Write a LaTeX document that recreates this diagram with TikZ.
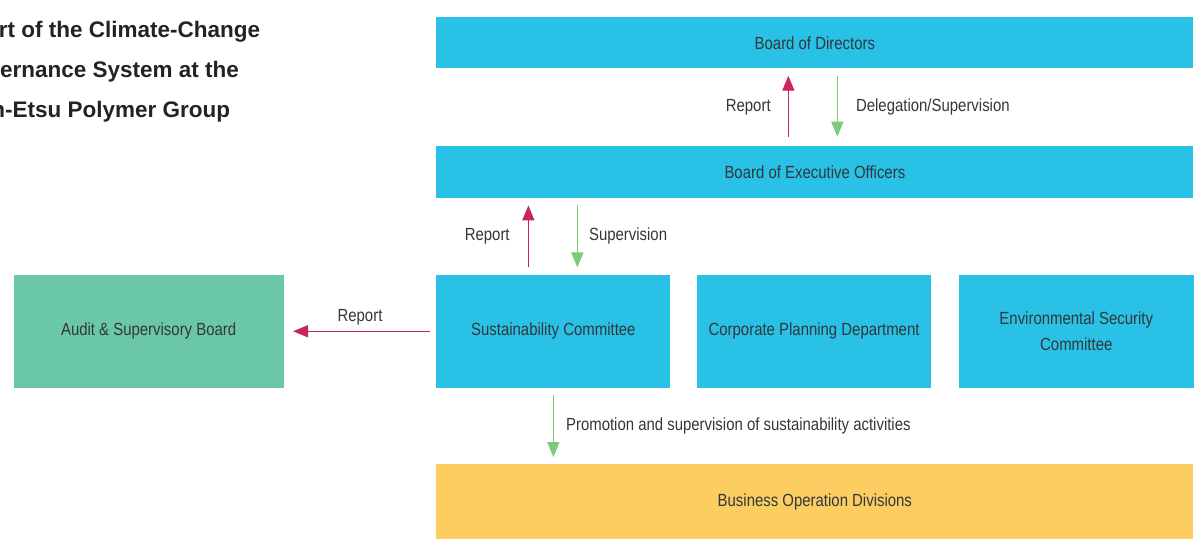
\documentclass[tikz,border=0pt]{standalone}
\usepackage{fontspec}
\setmainfont{Liberation Sans}[FakeStretch=0.85]
\newfontfamily\headfont{Liberation Sans}
\usetikzlibrary{arrows.meta, positioning}
\definecolor{boxcyan}{RGB}{41, 193, 229}
\definecolor{auditgreen}{RGB}{106, 199, 168}
\definecolor{bizyellow}{RGB}{252, 206, 98}
\definecolor{reportred}{RGB}{200, 38, 92}
\definecolor{supgreen}{RGB}{126, 201, 122}
\definecolor{inktext}{RGB}{50, 55, 60}
\definecolor{titleink}{RGB}{35, 35, 35}

\begin{document}
\begin{tikzpicture}[
    box/.style={fill=boxcyan, inner sep=2pt, align=center, text=inktext,
                font=\fontsize{10}{15.3}\selectfont,
                minimum width=4.68cm, minimum height=2.26cm},
    wide/.style={box, minimum width=15.14cm, minimum height=1.02cm},
    rep/.style={-{Triangle[length=0.3cm, width=0.24cm]}, line width=0.8pt, reportred},
    sup/.style={-{Triangle[length=0.3cm, width=0.24cm]}, line width=0.8pt, supgreen},
    lbl/.style={inner sep=0pt, text=inktext, font=\fontsize{10}{12}\selectfont}
  ]
  \useasboundingbox (0,0) rectangle (24,-11);

  % title, cut at the left edge
  \begin{scope}
    \clip (0,0) rectangle (24,-11);
    \node[anchor=north west, align=left, inner sep=0pt, text=titleink,
          font=\headfont\bfseries\fontsize{12.8}{22.7}\selectfont] (title) at (-0.88,-0.42)
          {Chart of the Climate-Change\\Governance System at the\\Shin-Etsu Polymer Group};
  \end{scope}

  % boards and committees
  \node[wide, anchor=north west] (bod) at (8.72,-0.34) {Board of Directors};
  \node[wide, below=1.54cm of bod, minimum height=1.04cm] (beo) {Board of Executive Officers};
  \node[box, anchor=north west] (sc) at ([yshift=-1.52cm]beo.south west) {Sustainability Committee};
  \node[box, right=0.52cm of sc] (cpd) {Corporate Planning Department};
  \node[box, right=0.54cm of cpd, minimum width=4.70cm] (esc) {Environmental Security\\Committee};
  \node[box, left=3.04cm of sc, fill=auditgreen, minimum width=5.4cm] (asb) {Audit \& Supervisory Board};
  \node[wide, anchor=north west, fill=bizyellow, minimum height=1.5cm] (bus)
       at ([yshift=-1.52cm]sc.south west) {Business Operation Divisions};

  % reporting lines
  \draw[rep, shorten <=0.18cm, shorten >=0.14cm] ([xshift=-0.53cm]beo.north) -- ([xshift=-0.53cm]bod.south)
       node[lbl, midway, left=0.34cm] {Report};
  \draw[sup, shorten <=0.14cm, shorten >=0.18cm] ([xshift=0.45cm]bod.south) -- ([xshift=0.45cm]beo.north)
       node[lbl, midway, right=0.36cm] {Delegation/Supervision};
  \draw[rep, shorten <=0.14cm, shorten >=0.14cm] ([xshift=-0.5cm]sc.north) -- ([xshift=-0.5cm]sc.north |- beo.south)
       node[lbl, midway, left=0.36cm] {Report};
  \draw[sup, shorten <=0.14cm, shorten >=0.14cm] ([xshift=0.48cm]sc.north |- beo.south) -- ([xshift=0.48cm]sc.north)
       node[lbl, midway, right=0.22cm] {Supervision};
  \draw[rep, shorten <=0.12cm, shorten >=0.18cm] (sc.west) -- (asb.east)
       node[lbl, midway, above=0.1cm] {Report};
  \draw[sup, shorten <=0.14cm, shorten >=0.14cm] (sc.south) -- (sc.south |- bus.north)
       node[lbl, midway, right=0.24cm] {Promotion and supervision of sustainability activities};
\end{tikzpicture}
\end{document}
